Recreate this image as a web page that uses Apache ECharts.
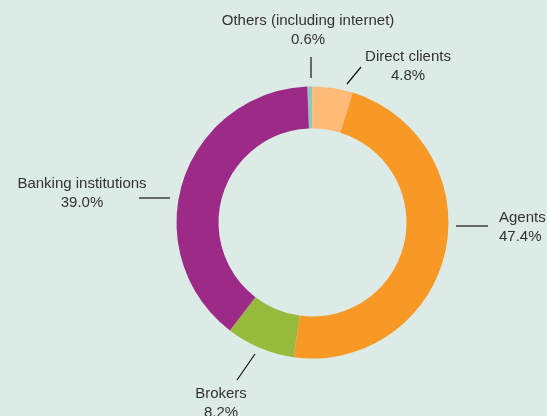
<!DOCTYPE html>
<html>
<head>
<meta charset="utf-8">
<script src="https://cdn.jsdelivr.net/npm/echarts@6/dist/echarts.min.js"></script>
<style>
html,body{margin:0;padding:0;background:#ddebe7;}
#c{width:547px;height:416px;}
</style>
</head>
<body>
<div id="c"></div>
<script>
var categories = ['Others (including internet)', 'Direct clients', 'Agents', 'Brokers', 'Banking institutions'];
var values = [0.6, 4.8, 47.4, 8.2, 39.0];
var colors = ['#8ec6c0', '#fdbb77', '#f89825', '#97ba3c', '#9c2a86'];

// label placement (layout only)
var labelPos = [
  {x: 308, y: 30, align: 'center', line: [[311, 57], [311, 78]]},
  {x: 408, y: 66, align: 'center', line: [[361, 67], [347, 84]]},
  {x: 499, y: 227, align: 'left', line: [[456, 226], [488, 226]]},
  {x: 221, y: 403, align: 'center', line: [[255, 354], [237, 380]]},
  {x: 82, y: 193, align: 'center', line: [[139, 198], [170, 198]]}
];

var chart = echarts.init(document.getElementById('c'));
chart.setOption({
  backgroundColor: '#ddebe7',
  animation: false,
  series: [{
    type: 'pie',
    center: [312.5, 222.5],
    radius: [94, 136],
    startAngle: 92.2,
    clockwise: true,
    avoidLabelOverlap: false,
    data: categories.map(function (n, i) {
      return {name: n, value: values[i], itemStyle: {color: colors[i]}};
    }),
    label: {
      show: true,
      formatter: function (p) { return p.name + '\n' + p.value.toFixed(1) + '%'; },
      fontFamily: 'Liberation Sans, Arial, sans-serif',
      fontSize: 15,
      lineHeight: 19,
      color: '#333'
    },
    labelLine: {show: true, lineStyle: {color: '#111', width: 1.2}},
    labelLayout: function (params) {
      var p = labelPos[params.dataIndex];
      var l = p.line;
      return {
        x: p.x, y: p.y, align: p.align, verticalAlign: 'middle',
        labelLinePoints: [l[0], l[0], l[1]]
      };
    },
    emphasis: {disabled: true}
  }]
});
</script>
</body>
</html>
